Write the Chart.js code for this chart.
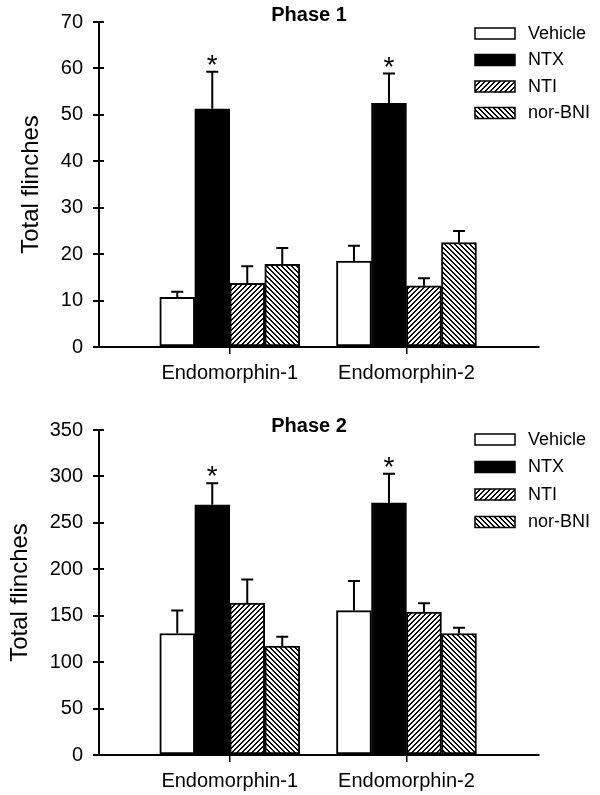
<!DOCTYPE html>
<html>
<head>
<meta charset="utf-8">
<script src="https://cdn.jsdelivr.net/npm/chart.js@4.4.1/dist/chart.umd.min.js"></script>
<style>
  html, body { margin: 0; padding: 0; background: #fff; }
  #wrap { position: relative; width: 600px; height: 795px; }
  .painel { position: absolute; left: 0; width: 600px; }
  #p1 { top: 0; height: 400px; }
  #p2 { top: 408px; height: 387px; }
</style>
</head>
<body>
<div id="wrap">
  <div class="painel" id="p1"><canvas id="fase1"></canvas></div>
  <div class="painel" id="p2"><canvas id="fase2"></canvas></div>
</div>
<script>
// categorias e grupos
const categorias = ['Endomorphin-1', 'Endomorphin-2'];
const grupos = ['Vehicle', 'NTX', 'NTI', 'nor-BNI'];
const marcados = ['NTX']; // grupos com asterisco

// Phase 1 (media e erro padrao)
const f1Vehicle = [10.7, 18.5];
const f1NTX = [51.3, 52.5];
const f1NTI = [13.7, 13.2];
const f1NorBNI = [17.8, 22.5];
const f1VehicleErr = [1.2, 3.3];
const f1NTXErr = [8.0, 6.4];
const f1NTIErr = [3.7, 1.6];
const f1NorBNIErr = [3.5, 2.5];

// Phase 2
const f2Vehicle = [130.8, 155.5];
const f2NTX = [269.4, 271.5];
const f2NTI = [163.7, 153.8];
const f2NorBNI = [117.4, 130.8];
const f2VehicleErr = [24.7, 31.9];
const f2NTXErr = [23.3, 31.5];
const f2NTIErr = [25.4, 9.5];
const f2NorBNIErr = [9.9, 6.3];

// eixos y
const f1Max = 70, f1Passo = 10;
const f2Max = 350, f2Passo = 50;

const FONTE = "'Liberation Sans', Arial, Helvetica, sans-serif";

function hachura(dir, k) {
    const c = document.createElement('canvas'); c.width = c.height = 5;
    const g = c.getContext('2d');
    g.fillStyle = '#fff'; g.fillRect(0, 0, 5, 5); g.fillStyle = '#000';
    for (let x = 0; x < 5; x++) for (let y = 0; y < 5; y++) {
        const v = dir > 0 ? (x + y) % 5 : ((x - y) % 5 + 5) % 5;
        if (v < k) g.fillRect(x, y, 1, 1);
    }
    return g.createPattern(c, 'repeat');
}
const preenchimentos = ['#ffffff', '#000000', hachura(1, 2), hachura(-1, 2)];

// barras de erro (so para cima), asteriscos e ticks internos do eixo y
const extras = {
    id: 'extras',
    afterDatasetsDraw(chart) {
        const ctx = chart.ctx, y = chart.scales.y;
        ctx.save();
        ctx.strokeStyle = '#000'; ctx.lineWidth = 2;
        chart.data.datasets.forEach((ds, i) => {
            chart.getDatasetMeta(i).data.forEach((bar, j) => {
                const topo = y.getPixelForValue(ds.data[j].y + ds.erros[j]);
                ctx.beginPath();
                ctx.moveTo(bar.x, bar.y); ctx.lineTo(bar.x, topo);
                ctx.moveTo(bar.x - 6, topo); ctx.lineTo(bar.x + 6, topo);
                ctx.stroke();
                if (marcados.includes(ds.label)) {
                    ctx.fillStyle = '#000'; ctx.font = `28px ${FONTE}`;
                    ctx.textAlign = 'center'; ctx.textBaseline = 'alphabetic';
                    ctx.fillText('*', bar.x, topo + 2);
                }
            });
        });
        ctx.lineWidth = 2;
        y.ticks.forEach(t => {
            const py = Math.round(y.getPixelForValue(t.value));
            ctx.beginPath(); ctx.moveTo(y.right, py); ctx.lineTo(y.right + 5, py); ctx.stroke();
        });
        ctx.restore();
    },
    afterDraw(chart, args, o) {
        const ctx = chart.ctx;
        ctx.save();
        ctx.fillStyle = '#000';
        ctx.font = `bold 20px ${FONTE}`; ctx.textAlign = 'center'; ctx.textBaseline = 'middle';
        ctx.fillText(o.titulo, o.tx, o.ty);
        // legenda
        ctx.font = `18px ${FONTE}`; ctx.textAlign = 'left';
        chart.data.datasets.forEach((ds, i) => {
            const cy = o.ly + i * o.passo;
            ctx.fillStyle = ds.backgroundColor;
            ctx.fillRect(475, cy - 5, 40, 11);
            ctx.strokeStyle = '#000'; ctx.lineWidth = 1.5;
            ctx.strokeRect(475, cy - 5, 40, 11);
            ctx.fillStyle = '#000';
            ctx.fillText(ds.label, 528, cy + 1);
        });
        ctx.restore();
    }
};

function montar(id, series, erros, max, passo, titulo, padTitulo, alturaX, leg) {
    const datasets = grupos.map((g, i) => ({
        label: g,
        data: series[i].map((v, j) => ({ x: j + 1, y: v })),
        erros: erros[i],
        backgroundColor: preenchimentos[i],
        borderColor: '#000', borderWidth: 2, borderSkipped: false,
        barThickness: 35, grouped: true
    }));
    return new Chart(document.getElementById(id), {
        type: 'bar',
        data: { datasets },
        plugins: [extras],
        options: {
            responsive: true, maintainAspectRatio: false, animation: false,
            layout: { padding: { left: 0, right: 61, top: 17, bottom: 0 } },
            plugins: { legend: { display: false }, tooltip: { enabled: false },
                extras: { titulo, tx: 309, ty: leg.ty, ly: leg.ly, passo: leg.passo } },
            scales: {
                x: {
                    type: 'linear', min: 0.26, max: 2.75, offset: false,
                    afterBuildTicks: a => { a.ticks = categorias.map((c, i) => ({ value: i + 1 })); },
                    afterFit: s => { s.height = alturaX; },
                    ticks: { autoSkip: false, maxRotation: 0, padding: 7, color: '#000',
                        font: { family: FONTE, size: 20 }, callback: v => categorias[v - 1] },
                    grid: { offset: false, drawOnChartArea: false, tickLength: 7, color: '#000', lineWidth: 1.5 },
                    border: { color: '#000', width: 2 }
                },
                y: {
                    min: 0, max,
                    afterFit: s => { s.width = 99; },
                    ticks: { stepSize: passo, padding: 10, color: '#000', font: { family: FONTE, size: 20 } },
                    grid: { drawOnChartArea: false, tickLength: 6, color: '#000', lineWidth: 2 },
                    border: { color: '#000', width: 2 },
                    title: { display: true, text: 'Total flinches', color: '#000',
                        font: { family: FONTE, size: 24 }, padding: { top: padTitulo, bottom: 0 } }
                }
            }
        }
    });
}

montar('fase1', [f1Vehicle, f1NTX, f1NTI, f1NorBNI], [f1VehicleErr, f1NTXErr, f1NTIErr, f1NorBNIErr],
    f1Max, f1Passo, 'Phase 1', 17, 53, { ty: 15, ly: 33, passo: 26.5 });
montar('fase2', [f2Vehicle, f2NTX, f2NTI, f2NorBNI], [f2VehicleErr, f2NTXErr, f2NTIErr, f2NorBNIErr],
    f2Max, f2Passo, 'Phase 2', 6, 40, { ty: 18, ly: 31, passo: 27.5 });
</script>
</body>
</html>
